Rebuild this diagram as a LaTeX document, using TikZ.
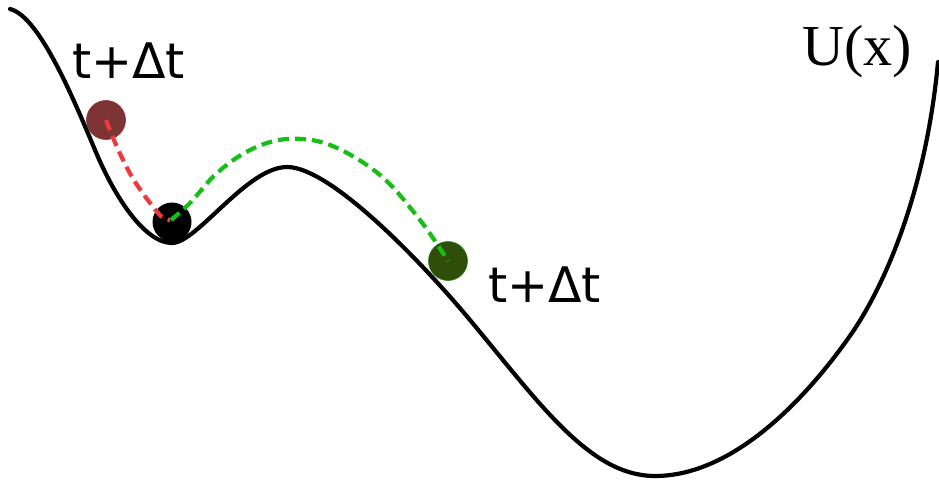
\documentclass[tikz,border=0pt]{standalone}
\usepackage{fontspec}
\setmainfont{DejaVu Sans}
\newfontfamily\labelserif{Liberation Serif}
\begin{document}
\begin{tikzpicture}[x=1pt,y=-1pt,
  potential/.style={line width=4.2pt,line cap=round},
  ball/.style={circle,minimum size=39pt,inner sep=0pt},
  trail/.style={line width=4.2pt,dash pattern=on 11pt off 6pt},
  tlabel/.style={font=\fontsize{49}{49}\selectfont,anchor=base west,inner sep=0pt},
  ulabel/.style={font=\labelserif\fontsize{58}{58}\selectfont,anchor=base west,inner sep=0pt}]
\definecolor{ballred}{RGB}{125,52,52}
\definecolor{ballgreen}{RGB}{48,78,10}
\definecolor{trailred}{RGB}{238,58,58}
\definecolor{trailgreen}{RGB}{22,190,22}
\useasboundingbox (0,0) rectangle (939,479);
\draw[potential] (10,9) .. controls (38,16) and (70,90) .. (95,150)
  .. controls (115,198) and (145,243) .. (172,243)
  .. controls (197,243) and (247,167) .. (287,167)
  .. controls (330,167) and (420,260) .. (470,320)
  .. controls (540,404) and (590,476) .. (655,476)
  .. controls (740,476) and (815,385) .. (847,340)
  .. controls (880,295) and (925,200) .. (938,62);
\node[ball,fill=black] (b0) at (172,222) {};
\node[ball,fill=ballred,draw=ballred!80!red,line width=0.6pt] (b1) at (106,120) {};
\node[ball,fill=ballgreen,draw=ballgreen!70!green,line width=0.6pt] (b2) at (448,261) {};
\draw[trail,trailred] plot[smooth,tension=0.6] coordinates {
  (b1.center) (117,147) (132,177) (150,203) (162,217) (170,220)};
\draw[trail,trailgreen] plot[smooth,tension=0.6] coordinates {
  (171,220) (190,203) (217,173) (250,150) (287,139) (330,145) (380,175) (420,220) (b2.center)};
\node[tlabel] (l1) at (72,78) {t+Δt};
\node[tlabel] (l2) at (488,302) {t+Δt};
\node[ulabel] (lu) at (802,65) {U(x)};
\end{tikzpicture}
\end{document}
